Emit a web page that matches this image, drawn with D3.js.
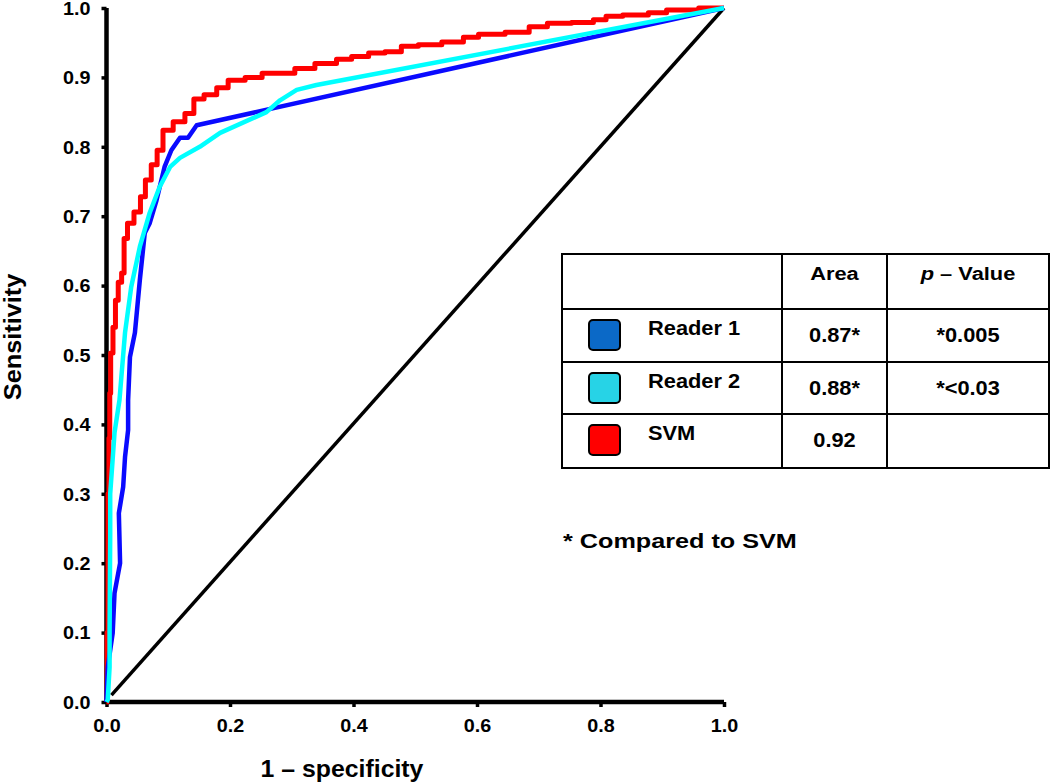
<!DOCTYPE html>
<html>
<head>
<meta charset="utf-8">
<script src="https://cdn.jsdelivr.net/npm/d3@7"></script>
<style>
  body { margin: 0; background: #fff; }
  svg { display: block; font-family: "Liberation Sans", Arial, sans-serif; font-weight: bold; }
</style>
</head>
<body>
<div id="chart"></div>
<script>
// ROC curves: [1 - specificity, sensitivity]
const reader1 = [
  [0, 0], [0.002, 0.05], [0.01, 0.099], [0.013, 0.157], [0.022, 0.2], [0.02, 0.272],
  [0.027, 0.31], [0.03, 0.353], [0.035, 0.392], [0.035, 0.435], [0.038, 0.497],
  [0.046, 0.532], [0.054, 0.608], [0.062, 0.676], [0.07, 0.69], [0.081, 0.723],
  [0.094, 0.771], [0.105, 0.795], [0.119, 0.813], [0.132, 0.813], [0.146, 0.831],
  [1, 1]
]
const reader2 = [
  [0, 0], [0.002, 0.003], [0.005, 0.05], [0.005, 0.1], [0.006, 0.24], [0.006, 0.3],
  [0.013, 0.388], [0.021, 0.435], [0.03, 0.532], [0.04, 0.598], [0.054, 0.656],
  [0.07, 0.705], [0.086, 0.742], [0.103, 0.771], [0.119, 0.784], [0.151, 0.8],
  [0.184, 0.82], [0.259, 0.85], [0.281, 0.867], [0.308, 0.882], [0.34, 0.889],
  [1, 1]
]
const svm = [
  [0, 0], [0.002, 0.1], [0.003, 0.3], [0.005, 0.38], [0.0055, 0.445], [0.008, 0.503],
  [0.013, 0.54], [0.016, 0.579], [0.022, 0.605], [0.027, 0.618], [0.03, 0.668],
  [0.038, 0.69], [0.051, 0.706], [0.059, 0.728], [0.067, 0.752], [0.078, 0.774],
  [0.086, 0.795], [0.097, 0.824], [0.119, 0.836], [0.135, 0.848], [0.148, 0.869],
  [0.168, 0.875], [0.189, 0.885], [0.205, 0.896], [0.244, 0.9], [0.26, 0.906],
  [0.297, 0.906], [0.313, 0.913], [0.362, 0.92], [0.383, 0.926], [0.411, 0.93],
  [0.438, 0.935], [0.464, 0.937], [0.491, 0.945], [0.519, 0.947], [0.567, 0.951],
  [0.589, 0.958], [0.616, 0.962], [0.675, 0.965], [0.694, 0.973], [0.734, 0.978],
  [0.772, 0.979], [0.805, 0.983], [0.813, 0.988], [0.859, 0.99], [0.896, 0.993],
  [0.918, 0.997], [1, 1]
]
const chance = [[0.008, 0.01], [1, 1]]

const xTicks = [0, 0.2, 0.4, 0.6, 0.8, 1.0]
const yTicks = [0, 0.1, 0.2, 0.3, 0.4, 0.5, 0.6, 0.7, 0.8, 0.9, 1.0]

// legend table
const tableHeader = ['', 'Area', 'p – Value']
const rowNames  = ['Reader 1', 'Reader 2', 'SVM']
const rowAreas  = ['0.87*', '0.88*', '0.92']
const rowPvals  = ['*0.005', '*<0.03', '']
const swatchColors = ['#0b69c7', '#27d3e6', '#ff0000']
const footnote = '* Compared to SVM'

const W = 1050, H = 782

const svg = d3.select('#chart').append('svg')
  .attr('width', W).attr('height', H)

const x = d3.scaleLinear().domain([0, 1]).range([106.5, 724])
const y = d3.scaleLinear().domain([0, 1]).range([702, 8])

// the source figure is stretched sideways, so text gets a horizontal scale
function label(parent, tx, ty, str, size, sx, anchor) {
  return parent.append('text')
    .attr('transform', `translate(${tx},${ty}) scale(${sx},1)`)
    .attr('text-anchor', anchor || 'start')
    .style('font-size', size + 'px')
    .text(str)
}

// Axes
const xAxis = svg.append('g')
  .attr('transform', `translate(0,${y(0)})`)
  .call(d3.axisBottom(x).tickValues(xTicks).tickFormat(d3.format('.1f')).tickSize(5))
const yAxis = svg.append('g')
  .attr('transform', `translate(${x(0)},0)`)
  .call(d3.axisLeft(y).tickValues(yTicks).tickFormat(d3.format('.1f')).tickSize(5))

;[xAxis, yAxis].forEach(a => {
  a.select('.domain').attr('stroke', '#000').attr('stroke-width', 4.5)
  a.selectAll('.tick line').attr('stroke', '#000').attr('stroke-width', 3.5)
  a.selectAll('.tick text')
    .attr('fill', '#000')
    .attr('x', 0).attr('y', 0)
    .style('font-size', '17.5px')
    .style('font-weight', 'bold')
    .style('font-family', '"Liberation Sans", Arial, sans-serif')
})
xAxis.select('.domain').attr('d', `M${x(0)},0H${x(1)}`)
yAxis.select('.domain').attr('d', `M0,${y(0)}V${y(1)}`)
xAxis.selectAll('.tick text').attr('dy', 0).attr('transform', 'translate(0,30) scale(1.13,1)')
yAxis.selectAll('.tick text').attr('dy', '0.36em').attr('transform', 'translate(-16,0) scale(1.13,1)')

// Axis titles
label(svg, 342, 777, '1 – specificity', 23, 1.08, 'middle')
svg.append('text')
  .attr('transform', 'translate(21,337) rotate(-90) scale(1.1,1)')
  .attr('text-anchor', 'middle')
  .style('font-size', '23px')
  .text('Sensitivity')

// Lines
const line = d3.line().x(d => x(d[0])).y(d => y(d[1]))

svg.append('path').datum(chance)
  .attr('fill', 'none').attr('stroke', '#000').attr('stroke-width', 3.5)
  .attr('d', line)

const series = [
  { data: svm, color: '#ff0000', width: 5, curve: d3.curveStep },
  { data: reader1, color: '#0a0aff', width: 4.5, curve: d3.curveLinear },
  { data: reader2, color: '#00ffff', width: 4.5, curve: d3.curveLinear },
]
series.forEach(s => {
  svg.append('path').datum(s.data)
    .attr('fill', 'none')
    .attr('stroke', s.color)
    .attr('stroke-width', s.width)
    .attr('stroke-linejoin', 'round')
    .attr('d', line.curve(s.curve))
})

// Table
const tbl = svg.append('g')
const colX = [562, 782, 887, 1049]
const rowY = [254, 309, 362, 414, 468]
const midArea = (colX[1] + colX[2]) / 2
const midP = (colX[2] + colX[3]) / 2

tbl.append('rect')
  .attr('x', colX[0]).attr('y', rowY[0])
  .attr('width', colX[3] - colX[0]).attr('height', rowY[4] - rowY[0])
  .attr('fill', 'none').attr('stroke', '#000').attr('stroke-width', 2)

colX.slice(1, 3).forEach(cx => {
  tbl.append('line')
    .attr('x1', cx).attr('x2', cx).attr('y1', rowY[0]).attr('y2', rowY[4])
    .attr('stroke', '#000').attr('stroke-width', 2)
})
rowY.slice(1, 4).forEach(ry => {
  tbl.append('line')
    .attr('x1', colX[0]).attr('x2', colX[3]).attr('y1', ry).attr('y2', ry)
    .attr('stroke', '#000').attr('stroke-width', 2)
})

// header
label(tbl, midArea, 280, tableHeader[1], 18.5, 1.18, 'middle')
const pv = label(tbl, midP, 280, '', 18.5, 1.18, 'middle')
pv.append('tspan').style('font-style', 'italic').text(tableHeader[2].split(' ')[0])
pv.append('tspan').text(' ' + tableHeader[2].split(' ').slice(1).join(' '))

rowNames.forEach((name, i) => {
  const top = rowY[i + 1]
  tbl.append('rect')
    .attr('x', 589).attr('y', top + 11)
    .attr('width', 31).attr('height', 30)
    .attr('rx', 4)
    .attr('fill', swatchColors[i])
    .attr('stroke', '#000').attr('stroke-width', 2)
  label(tbl, 648, top + 26, name, 19.5, 1.12)
  label(tbl, midArea, top + 33, rowAreas[i], 19.5, 1.12, 'middle')
  label(tbl, midP, top + 33, rowPvals[i], 19.5, 1.12, 'middle')
})

label(svg, 563, 548, footnote, 21, 1.2)
</script>
</body>
</html>
